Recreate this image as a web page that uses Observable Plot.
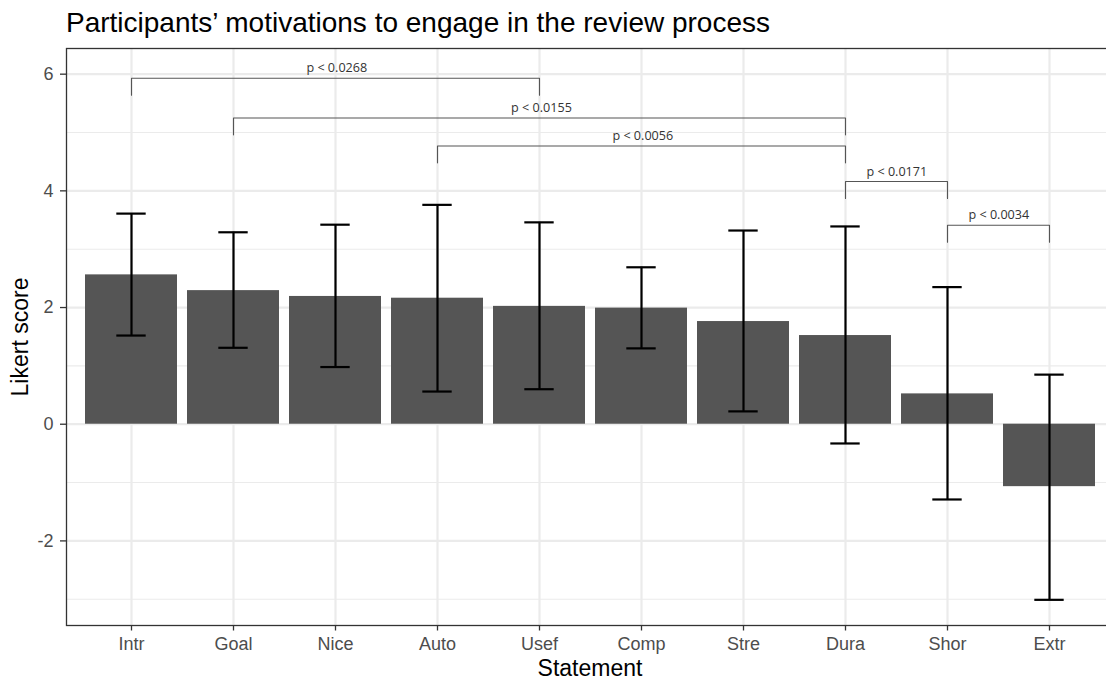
<!DOCTYPE html>
<html>
<head>
<meta charset="utf-8">
<script src="https://cdn.jsdelivr.net/npm/d3@7"></script>
<script src="https://cdn.jsdelivr.net/npm/@observablehq/plot@0.6"></script>
<style>
  html, body { margin: 0; padding: 0; background: #fff; overflow: hidden; width: 1106px; }
  #wrap { width: 1106px; height: 681px; overflow: hidden; position: relative; background: #fff; }
  #title { position: absolute; left: 66px; top: 3px; height: 40px; font: 28px "Liberation Sans", Arial, sans-serif; color: #000; line-height: 40px; white-space: nowrap; }
  #chart { position: absolute; left: 0; top: 40px; width: 1106px; }
  #chart svg { max-width: none !important; overflow: hidden; }
</style>
</head>
<body>
<div id="wrap">
  <div id="title">Participants’ motivations to engage in the review process</div>
  <div id="chart"></div>
</div>
<script>
// ---- data ----
const statements = ["Intr", "Goal", "Nice", "Auto", "Usef", "Comp", "Stre", "Dura", "Shor", "Extr"];
const means = [2.56, 2.29, 2.19, 2.16, 2.02, 1.99, 1.76, 1.52, 0.52, -1.07];
const lower = [1.52, 1.31, 0.98, 0.56, 0.60, 1.30, 0.22, -0.33, -1.29, -3.01];
const upper = [3.61, 3.29, 3.42, 3.76, 3.46, 2.69, 3.32, 3.39, 2.35, 0.85];

const bracketFrom = ["Intr", "Goal", "Auto", "Dura", "Shor"];
const bracketTo = ["Usef", "Dura", "Dura", "Shor", "Extr"];
const bracketTop = [5.93, 5.25, 4.77, 4.16, 3.41];
const bracketLabels = ["p < 0.0268", "p < 0.0155", "p < 0.0056", "p < 0.0171", "p < 0.0034"];

const yMajorTicks = [-2, 0, 2, 4, 6];
const yMinorTicks = [-3, -1, 1, 3, 5];
const yDomain = [-3.45, 6.44];

// ---- derived tables ----
const rows = statements.map((s, i) => ({statement: s, mean: means[i], lo: lower[i], hi: upper[i]}));
const tipLength = 0.29;
const bracketPts = [];
bracketFrom.forEach((f, i) => {
  const t = bracketTo[i], y = bracketTop[i];
  bracketPts.push({id: i, x: f, y: y - tipLength});
  bracketPts.push({id: i, x: f, y: y});
  bracketPts.push({id: i, x: t, y: y});
  bracketPts.push({id: i, x: t, y: y - tipLength});
});

// ---- layout ----
const W = 1106, H = 641;
const mL = 66, mR = -8, mT = 8, mB = 56;
const xRange = [66, 1113];
const step = (xRange[1] - xRange[0]) / (statements.length - 0.1 + 0.3);
const bandwidth = step * 0.9;
const capWidth = step * 0.29;
const capInset = (bandwidth - capWidth) / 2;

const labelMarks = bracketFrom.map((f, i) => {
  const di = statements.indexOf(bracketTo[i]) - statements.indexOf(f);
  return Plot.text([{x: f, y: bracketTop[i], label: bracketLabels[i]}], {
    x: "x", y: "y", text: "label",
    dx: di * step / 2, dy: -10,
    fontSize: 12.6, fill: "#333",
    fontFamily: "'Open Sans', 'Noto Sans', sans-serif"
  });
});

const panelCenterDx = ((xRange[0] + xRange[1]) / 2) - ((mL + (W - mR)) / 2);

const chart = Plot.plot({
  width: W, height: H,
  marginLeft: mL, marginRight: mR, marginTop: mT, marginBottom: mB,
  style: {background: "#fff", fontFamily: "'Liberation Sans', Arial, sans-serif", maxWidth: "none", overflow: "hidden"},
  x: {domain: statements, type: "band", range: xRange, paddingInner: 0.1, paddingOuter: 0.15, axis: null},
  y: {domain: yDomain, axis: null},
  marks: [
    Plot.gridY(yMinorTicks, {stroke: "#ebebeb", strokeOpacity: 1, strokeWidth: 1.1}),
    Plot.gridY(yMajorTicks, {stroke: "#ebebeb", strokeOpacity: 1, strokeWidth: 2.2}),
    Plot.gridX(statements, {stroke: "#ebebeb", strokeOpacity: 1, strokeWidth: 2.2}),
    Plot.barY(rows, {x: "statement", y: "mean", fill: "#555555"}),
    Plot.ruleX(rows, {x: "statement", y1: "lo", y2: "hi", stroke: "#000", strokeWidth: 2.2}),
    Plot.tickY(rows, {x: "statement", y: "lo", stroke: "#000", strokeWidth: 2.2, insetLeft: capInset, insetRight: capInset}),
    Plot.tickY(rows, {x: "statement", y: "hi", stroke: "#000", strokeWidth: 2.2, insetLeft: capInset, insetRight: capInset}),
    Plot.line(bracketPts, {x: "x", y: "y", z: "id", stroke: "#555", strokeWidth: 1.1, curve: "linear"}),
    ...labelMarks,
    Plot.frame({stroke: "#333", strokeWidth: 1.3}),
    Plot.axisX({tickSize: 5.5, tickPadding: 6.5, fontSize: 18, color: "#4d4d4d", stroke: "#333", strokeWidth: 1.3, label: null}),
    Plot.axisY(yMajorTicks, {tickSize: 6, tickPadding: 7, fontSize: 18, color: "#4d4d4d", stroke: "#333", strokeWidth: 1.3, label: null, tickFormat: d => d < 0 ? "-" + Math.abs(d) : String(d)}),
    Plot.text(["Likert score"], {frameAnchor: "left", textAnchor: "middle", lineAnchor: "middle", rotate: -90, dx: -46, fontSize: 23, fill: "#000", text: d => d}),
    Plot.text(["Statement"], {frameAnchor: "bottom", textAnchor: "middle", lineAnchor: "middle", dy: 43, dx: panelCenterDx, fontSize: 23, fill: "#000", text: d => d})
  ]
});
document.getElementById("chart").appendChild(chart);
</script>
</body>
</html>
